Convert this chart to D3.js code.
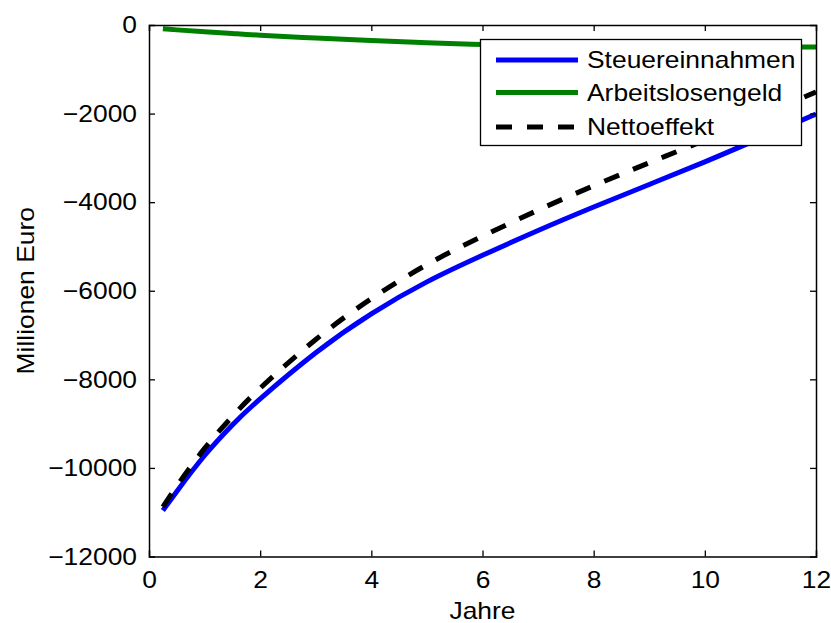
<!DOCTYPE html>
<html>
<head>
<meta charset="utf-8">
<script src="https://cdn.jsdelivr.net/npm/d3@7"></script>
<style>
  body { margin: 0; background: #fff; }
  text { font-family: "Liberation Sans", Arial, sans-serif; fill: #000; }
</style>
</head>
<body>
<svg id="chart" width="831" height="623"></svg>
<script>
// ---- data ----
const years = [0.25, 0.5, 1, 1.5, 2, 3, 4, 5, 6, 7, 8, 9, 10, 11, 12];
const steuereinnahmen = [-10960, -10530, -9720, -9030, -8440, -7400, -6520, -5800, -5200, -4640, -4110, -3600, -3090, -2555, -2010];
const arbeitslosengeld = [-85, -110, -150, -190, -230, -295, -350, -400, -440, -465, -480, -490, -495, -497, -498];
const nettoeffekt = [-10880, -10410, -9560, -8840, -8200, -7100, -6180, -5410, -4770, -4180, -3630, -3110, -2600, -2060, -1512];
const seriesNames = ["Steuereinnahmen", "Arbeitslosengeld", "Nettoeffekt"];
const xTicks = [0, 2, 4, 6, 8, 10, 12];
const yTicks = [0, -2000, -4000, -6000, -8000, -10000, -12000];
const xLabel = "Jahre";
const yLabel = "Millionen Euro";

(function () {
const svg = d3.select("#chart");
const L = 149, R = 816, T = 25, B = 556.5;
const x = d3.scaleLinear().domain([0, 12]).range([L, R]);
const y = d3.scaleLinear().domain([-12000, 0]).range([B, T]);

const FS = 24;
const STRETCH = 1.1;
const fmt = v => v < 0 ? "\u2212" + Math.abs(v) : String(v);

svg.append("defs").append("clipPath").attr("id", "clip")
  .append("rect").attr("x", L).attr("y", T).attr("width", R - L).attr("height", B - T);

const series = [
  { name: seriesNames[0], values: steuereinnahmen, color: "#0000ff", dash: null },
  { name: seriesNames[1], values: arbeitslosengeld, color: "#008000", dash: null },
  { name: seriesNames[2], values: nettoeffekt, color: "#000000", dash: "16,15" }
];
const line = d3.line().curve(d3.curveNatural)
  .x((d, i) => x(years[i])).y(d => y(d));
const g = svg.append("g").attr("clip-path", "url(#clip)");
series.forEach(s => {
  g.append("path").datum(s.values)
    .attr("d", line)
    .attr("fill", "none")
    .attr("stroke", s.color)
    .attr("stroke-width", 5)
    .attr("stroke-dasharray", s.dash);
});

const axisColor = "#000";
const axB = svg.append("g").attr("transform", `translate(0,${B})`)
  .call(d3.axisBottom(x).tickValues(xTicks).tickSize(-6).tickPadding(14).tickFormat(fmt));
const axT = svg.append("g").attr("transform", `translate(0,${T})`)
  .call(d3.axisTop(x).tickValues(xTicks).tickSize(-6).tickFormat(""));
const axL = svg.append("g").attr("transform", `translate(${L},0)`)
  .call(d3.axisLeft(y).tickValues(yTicks).tickSize(-6).tickPadding(12).tickFormat(fmt));
const axR = svg.append("g").attr("transform", `translate(${R},0)`)
  .call(d3.axisRight(y).tickValues(yTicks).tickSize(-6).tickFormat(""));
[axB, axT, axL, axR].forEach(a => {
  a.select(".domain").attr("stroke", axisColor).attr("stroke-width", 1.5);
  a.selectAll(".tick line").attr("stroke", axisColor).attr("stroke-width", 1.3);
  a.selectAll(".tick text").attr("font-size", FS).attr("font-family", "Liberation Sans, Arial, sans-serif").attr("fill", "#000");
});
[axB, axT].forEach(a => a.selectAll(".tick line").filter(d => d === 0 || d === 12).remove());
[axL, axR].forEach(a => a.selectAll(".tick line").filter(d => d === 0 || d === -12000).remove());

svg.append("text").attr("x", (L + R) / 2).attr("y", 619)
  .attr("text-anchor", "middle").attr("font-size", FS).text(xLabel);
svg.append("text").attr("transform", `translate(34,${(T + B) / 2}) rotate(-90)`)
  .attr("text-anchor", "middle").attr("font-size", FS).text(yLabel);

const lg = svg.append("g");
lg.append("rect").attr("x", 480.5).attr("y", 39.5).attr("width", 321).attr("height", 106)
  .attr("fill", "#fff").attr("stroke", "#000").attr("stroke-width", 1.3);
const rowY = [60, 92.5, 127];
series.forEach((s, i) => {
  lg.append("line").attr("x1", 496).attr("x2", 578).attr("y1", rowY[i]).attr("y2", rowY[i])
    .attr("stroke", s.color).attr("stroke-width", 5).attr("stroke-dasharray", s.dash);
  lg.append("text").attr("x", 587).attr("y", rowY[i]).attr("dy", "0.35em")
    .attr("font-size", FS).text(s.name);
});

// the reference glyphs are slightly wider than Liberation Sans: stretch horizontally
svg.selectAll("text").each(function () {
  const w = this.getComputedTextLength();
  if (w > 0) {
    d3.select(this).attr("textLength", w * STRETCH).attr("lengthAdjust", "spacingAndGlyphs");
  }
});
})();
</script>
</body>
</html>
